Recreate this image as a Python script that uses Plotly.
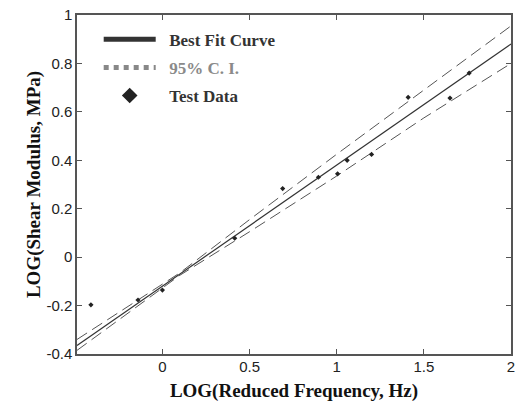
import plotly.graph_objects as go

# Test data
data_x = [-0.41, -0.14, 0.0, 0.415, 0.69, 0.895, 1.005, 1.06, 1.2, 1.41, 1.65, 1.76]
data_y = [-0.197, -0.177, -0.136, 0.078, 0.283, 0.33, 0.344, 0.40, 0.424, 0.66, 0.657, 0.76]

# Best-fit curve and 95% confidence bounds
fit_x = [-0.49, 2.0]
fit_y = [-0.365, 0.88]
ci_x = [-0.49, 0.0, 0.1, 0.5, 1.0, 1.5, 2.0]
ci_upper = [-0.34, -0.11, -0.065, 0.155, 0.425, 0.69, 0.955]
ci_lower = [-0.385, -0.13, -0.075, 0.105, 0.335, 0.575, 0.80]

x_ticks = [0, 0.5, 1, 1.5, 2]
x_ticklabels = ["0", "0.5", "1", "1.5", "2"]
y_ticks = [-0.4, -0.2, 0, 0.2, 0.4, 0.6, 0.8, 1]
y_ticklabels = ["-0.4", "-0.2", "0", "0.2", "0.4", "0.6", "0.8", "1"]

PAD = "&nbsp;&nbsp;"

fig = go.Figure()
fig.add_trace(go.Scatter(x=ci_x, y=ci_upper, mode="lines", showlegend=False,
                         line=dict(color="#555555", width=1, dash="12px,6px")))
fig.add_trace(go.Scatter(x=ci_x, y=ci_lower, mode="lines", showlegend=False,
                         line=dict(color="#555555", width=1, dash="12px,6px")))
fig.add_trace(go.Scatter(x=fit_x, y=fit_y, mode="lines", name=PAD + "<b>Best Fit Curve</b>",
                         legendgroup="a", line=dict(color="#333333", width=1.2)))
fig.add_trace(go.Scatter(x=[None], y=[None], mode="lines", legendgroup="b",
                         name=PAD + "<b><span style='color:#8a8a8a'>95% C. I.</span></b>",
                         line=dict(color="#888888", width=1.5, dash="dot")))
fig.add_trace(go.Scatter(x=data_x, y=data_y, mode="markers", name=PAD + "<b>Test Data</b>",
                         legendgroup="c",
                         marker=dict(symbol="diamond", size=4, color="#222222")))

axis_common = dict(showgrid=False, zeroline=False, showline=True, linecolor="#555555",
                   linewidth=1.5, mirror="ticks", ticks="inside", ticklen=5,
                   tickcolor="#555555", tickwidth=1,
                   tickfont=dict(family="Liberation Sans, Arial", size=15, color="#222222"))

fig.update_xaxes(range=[-0.49, 2.0], tickvals=x_ticks, ticktext=x_ticklabels,
                 ticklabelstandoff=-2,
                 title=dict(text="<b>LOG(Reduced Frequency, Hz)</b>", standoff=10,
                            font=dict(family="Liberation Serif, Times New Roman", size=19, color="#111111")),
                 **axis_common)
fig.update_yaxes(range=[-0.4, 1.0], tickvals=y_ticks, ticktext=y_ticklabels,
                 title=dict(text="<b>LOG(Shear Modulus, MPa)</b>", standoff=1,
                            font=dict(family="Liberation Serif, Times New Roman", size=19, color="#111111")),
                 **axis_common)

fig.update_layout(
    width=521, height=407,
    margin=dict(l=77, r=6, t=10, b=53),
    plot_bgcolor="white", paper_bgcolor="white",
    legend=dict(x=0.05, y=0.98, xanchor="left", yanchor="top",
                bgcolor="rgba(0,0,0,0)", itemwidth=52, tracegroupgap=3,
                itemsizing="constant",
                font=dict(family="Liberation Serif, Times New Roman", size=17, color="#333333"),
                traceorder="grouped"),
)

fig.write_html("out.html", config={"displayModeBar": False},
               post_script="document.body.style.margin='0';document.body.style.padding='0';")
